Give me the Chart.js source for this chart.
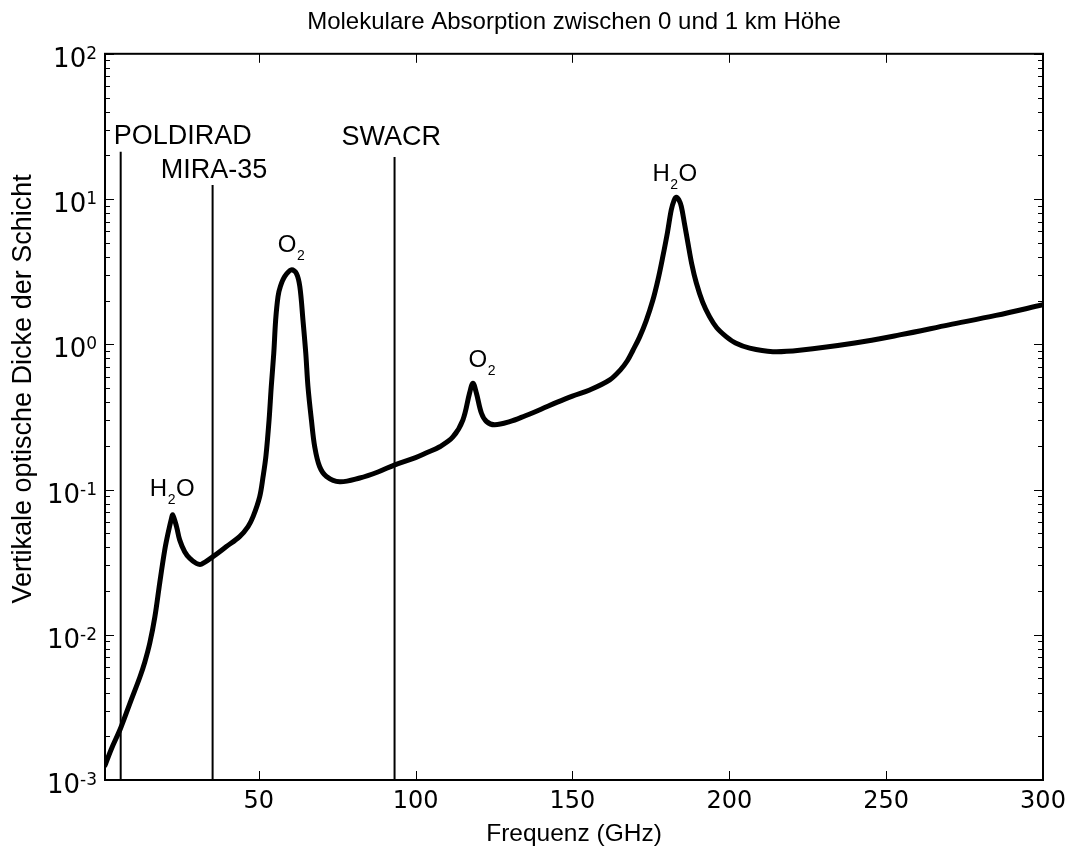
<!DOCTYPE html>
<html>
<head>
<meta charset="utf-8">
<title>Molekulare Absorption</title>
<script src="https://cdn.jsdelivr.net/npm/chart.js@4.4.1/dist/chart.umd.min.js"></script>
<style>
  html, body { margin: 0; padding: 0; background: #fff; }
  #wrap { width: 1067px; height: 852px; }
</style>
</head>
<body>
<div id="wrap"><canvas id="absorb" width="1067" height="852"></canvas></div>
<script>
const freqGHz = [1, 3, 6, 9, 12.1, 13.7, 15.3, 16.9, 18.45, 20.05, 21.1, 22.2, 22.6, 23.8, 24.8, 26.4, 28, 30.1,
  31.7, 35.4, 39.7, 43.9, 46.6, 48.2, 50.3, 51.4, 52.3, 53.3, 54, 54.8, 55.4, 56.15, 56.9, 58.3, 60.4, 62, 63.1,
  64.1, 65, 65.7, 66.8, 67.85, 69.4, 71.6, 75.8, 82.2, 88, 93.4, 100, 103.5, 107.7, 111.9, 115.1, 117.2, 118.3,
  119.4, 121, 122.6, 125.2, 130, 135, 140, 145, 150, 155.5, 161.9, 165.3, 167.5, 169.3, 171.4, 173.5, 175.6,
  177.3, 178.8, 180.3, 181.5, 182.4, 183.1, 183.9, 184.7, 185.7, 186.8, 188, 189.5, 191.5, 193.7, 196, 199, 202,
  206.5, 213.9, 222.4, 240, 254.3, 270, 285, 300];
const tau = [0.00126, 0.00163, 0.00228, 0.0034, 0.0051, 0.0065, 0.0088, 0.0133, 0.0228, 0.0384, 0.05, 0.0634,
  0.0668, 0.0556, 0.045, 0.0373, 0.0336, 0.031,
  0.0306, 0.0345, 0.0405, 0.0474, 0.0556, 0.065, 0.089, 0.123, 0.17, 0.301, 0.511, 0.869, 1.47, 2.13, 2.5, 2.93,
  3.25, 3.08, 2.5,
  1.47, 0.869, 0.511, 0.301, 0.197, 0.144, 0.123, 0.113, 0.12, 0.132, 0.148, 0.166, 0.179, 0.197, 0.23, 0.302,
  0.46, 0.54,
  0.46, 0.335, 0.294, 0.279, 0.293, 0.322, 0.357, 0.398, 0.44, 0.485, 0.569, 0.667, 0.77, 0.91, 1.12, 1.45, 2.0,
  2.8, 4.0, 5.9, 8.4, 9.8, 10.3, 9.9, 8.9, 6.8, 5.0, 3.6, 2.64, 1.95, 1.55, 1.3, 1.13, 1.02,
  0.94, 0.89, 0.91, 1.02, 1.16, 1.36, 1.58, 1.87];

// Radar-Frequenzen als senkrechte Linien
const radarNames = ['POLDIRAD', 'MIRA-35', 'SWACR'];
const radarFreq = [6, 35.3, 93.3];
const radarTop = [21.2, 12.5, 19.5];
const radarLabelX = [3.8, 18.8, 76.4];
const radarLabelY = [24, 14, 23.6];

// Beschriftung der Absorptionslinien
const molMain = ['H', 'O', 'O', 'H'];
const molSub = ['2', '2', '2', '2'];
const molTail = ['O', '', '', 'O'];
const molX = [15.3, 56.1, 116.9, 175.5];
const molY = [0.0904, 4.33, 0.698, 13.3];

const xTicks = [50, 100, 150, 200, 250, 300];
const yExp = [-3, -2, -1, 0, 1, 2];
const yTitle = 'Vertikale optische Dicke der Schicht';

const TXT = '"Liberation Sans", Arial, sans-serif';
const NUM = '"DejaVu Sans", sans-serif';

const datasets = [{
    data: freqGHz.map((f, i) => ({ x: f, y: tau[i] })),
    borderColor: '#000',
    borderWidth: 5,
    pointRadius: 0,
    tension: 0.35,
    borderCapStyle: 'round',
    borderJoinStyle: 'round'
}];
radarFreq.forEach((f, i) => {
    datasets.push({
        data: [{ x: f, y: 1e-3 }, { x: f, y: radarTop[i] }],
        borderColor: '#000',
        borderWidth: 2,
        pointRadius: 0
    });
});

// Rahmen, nach innen zeigende Ticks, Exponenten-Labels und Textmarken
const decorations = {
    id: 'decorations',
    afterDatasetsDraw(chart) {
        const { ctx, chartArea: a, scales: { x, y } } = chart;
        ctx.save();
        ctx.strokeStyle = '#000';
        ctx.fillStyle = '#000';
        ctx.lineWidth = 1;
        const seg = (x1, y1, x2, y2) => {
            ctx.beginPath(); ctx.moveTo(x1, y1); ctx.lineTo(x2, y2); ctx.stroke();
        };
        xTicks.forEach(v => {
            const px = Math.round(x.getPixelForValue(v)) + 0.5;
            seg(px, a.bottom, px, a.bottom - 9);
            seg(px, a.top, px, a.top + 9);
        });
        yExp.forEach(e => {
            for (let m = 1; m < 10; m++) {
                const v = m * Math.pow(10, e);
                if (v > 100) break;
                const py = Math.round(y.getPixelForValue(v)) + 0.5;
                const len = m === 1 ? 9 : 5;
                seg(a.left, py, a.left + len, py);
                seg(a.right, py, a.right - len, py);
            }
        });
        ctx.lineWidth = 2;
        ctx.strokeRect(a.left, a.top, a.right - a.left, a.bottom - a.top);

        // y-Achse: 10^n
        ctx.textAlign = 'left';
        ctx.textBaseline = 'alphabetic';
        yExp.forEach(e => {
            const py = y.getPixelForValue(Math.pow(10, e));
            const ex = String(e);
            ctx.font = '17px ' + NUM;
            const ew = ctx.measureText(ex).width;
            ctx.font = '26px ' + NUM;
            const bw = ctx.measureText('10').width;
            const right = a.left - 8;
            ctx.fillText('10', right - ew - bw, py + 13);
            ctx.font = '17px ' + NUM;
            ctx.fillText(ex, right - ew, py + 5);
        });

        // Achsentitel links
        ctx.save();
        ctx.font = '27px ' + TXT;
        ctx.textAlign = 'center';
        ctx.textBaseline = 'middle';
        ctx.translate(24, (a.top + a.bottom) / 2 - 28);
        ctx.rotate(-Math.PI / 2);
        ctx.fillText(yTitle, 0, 0);
        ctx.restore();

        // Radar-Namen
        ctx.font = '27px ' + TXT;
        radarNames.forEach((n, i) => {
            ctx.fillText(n, x.getPixelForValue(radarLabelX[i]), y.getPixelForValue(radarLabelY[i]));
        });

        // Molekuele mit tiefgestellter 2
        molMain.forEach((m, i) => {
            let px = x.getPixelForValue(molX[i]);
            const py = y.getPixelForValue(molY[i]);
            ctx.font = '24px ' + TXT;
            ctx.fillText(m, px, py);
            px += ctx.measureText(m).width + 0.5;
            ctx.font = '14px ' + TXT;
            ctx.fillText(molSub[i], px, py + 8);
            px += ctx.measureText(molSub[i]).width + 0.5;
            ctx.font = '24px ' + TXT;
            ctx.fillText(molTail[i], px, py);
        });
        ctx.restore();
    }
};

new Chart(document.getElementById('absorb'), {
    type: 'line',
    data: { datasets },
    plugins: [decorations],
    options: {
        responsive: false,
        animation: false,
        devicePixelRatio: 1,
        layout: { padding: { left: 0, right: 24, top: 0, bottom: 0 } },
        plugins: {
            legend: { display: false },
            tooltip: { enabled: false },
            title: {
                display: true,
                fullSize: false,
                text: 'Molekulare Absorption zwischen 0 und 1 km Höhe',
                color: '#000',
                font: { family: TXT, size: 24, weight: 'normal' },
                padding: { top: 8, bottom: 17 }
            }
        },
        scales: {
            x: {
                type: 'linear',
                min: 1,
                max: 300,
                afterBuildTicks: s => { s.ticks = xTicks.map(v => ({ value: v })); },
                afterFit: s => { s.height = 72; s.paddingLeft = 0; s.paddingRight = 0; },
                grid: { display: false },
                border: { display: false },
                ticks: { color: '#000', font: { family: NUM, size: 24 }, padding: -1, maxRotation: 0 },
                title: {
                    display: true,
                    text: 'Frequenz (GHz)',
                    color: '#000',
                    font: { family: TXT, size: 24.5 },
                    padding: { top: 0, bottom: 3 }
                }
            },
            y: {
                type: 'logarithmic',
                min: 1e-3,
                max: 100,
                afterFit: s => { s.width = 105; s.paddingTop = 0; s.paddingBottom = 0; },
                grid: { display: false },
                border: { display: false },
                ticks: { display: false }
            }
        }
    }
});
</script>
</body>
</html>
